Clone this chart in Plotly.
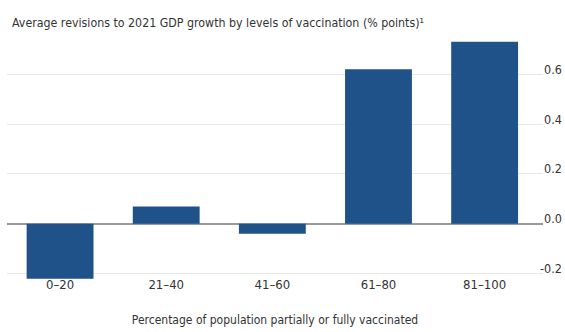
import plotly.graph_objects as go

categories = ["0–20", "21–40", "41–60", "61–80", "81–100"]
values = [-0.22, 0.07, -0.04, 0.62, 0.73]
y_ticks = [-0.2, 0.0, 0.2, 0.4, 0.6]

FONT = "DejaVu Sans Condensed, Roboto, sans-serif"

fig = go.Figure(go.Bar(x=categories, y=values, marker=dict(color="#1f5288", line=dict(width=0)),
                       width=0.63))

annotations = [dict(text="Average revisions to 2021 GDP growth by levels of vaccination (% points)¹",
                    x=0, xref="paper", xanchor="left", xshift=3, y=1, yref="paper", yanchor="bottom", yshift=6,
                    showarrow=False, font=dict(family=FONT, size=12.3, color="#333333"))]
for t in y_ticks:
    annotations.append(dict(text=f"{t:.1f}", x=1, xref="paper", xanchor="right", xshift=21,
                            y=t, yref="y", yanchor="middle", yshift=5, showarrow=False,
                            font=dict(family=FONT, size=12.5, color="#333333")))

fig.update_layout(
    width=565, height=332,
    margin=dict(l=7, r=22, t=38, b=52),
    plot_bgcolor="white", paper_bgcolor="white",
    font=dict(family=FONT, size=13, color="#333333"),
    showlegend=False,
    annotations=annotations,
)
fig.update_xaxes(showgrid=False, ticks="", showline=False, tickfont=dict(size=13), ticklabelstandoff=-5,
                 automargin=False, range=[-0.5, 4.55],
                 title=dict(text="Percentage of population partially or fully vaccinated",
                            font=dict(size=12), standoff=24))
fig.update_yaxes(side="right", range=[-0.225, 0.745], tickvals=y_ticks, showticklabels=False,
                 showgrid=True, gridcolor="#e8e8e8", gridwidth=1, automargin=False,
                 zeroline=True, zerolinecolor="#999999", zerolinewidth=2,
                 ticks="", showline=False)

fig.write_html("out.html")
